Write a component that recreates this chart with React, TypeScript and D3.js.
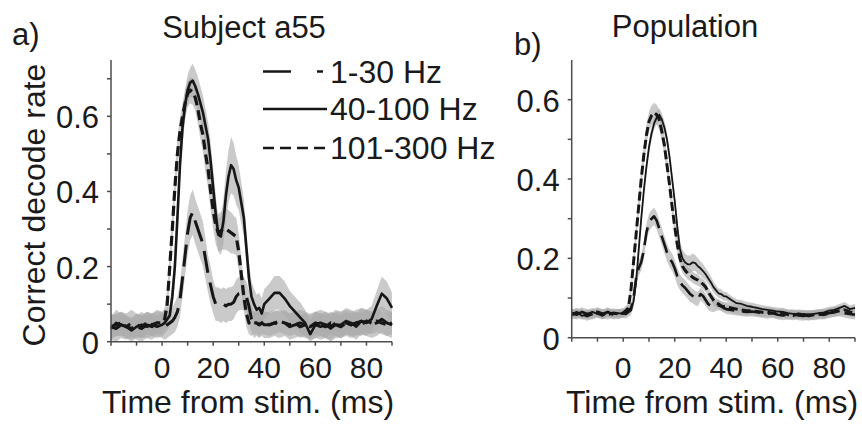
import React from 'react';
import * as d3 from 'd3';

// ---------- data ----------
const TIME = [-20,-18,-16,-14,-12,-10,-8,-6,-4,-2,
  0,1,2,3,4,5,6,7,8,9,10,11,12,13,14,15,16,17,18,19,20,21,22,23,24,25,26,27,28,29,30,31,32,33,34,35,36,37,38,39,40,
  42,44,46,48,50,52,54,56,58,60,62,64,66,68,70,72,74,76,78,80,82,84,86,88,90];

const X_TICKS = [-20,-10,0,10,20,30,40,50,60,70,80,90];
const X_TICK_LABELS = [0,20,40,60,80];
const Y_TICKS_A = [0,0.1,0.2,0.3,0.4,0.5,0.6,0.7];
const Y_TICKS_B = [0,0.1,0.2,0.3,0.4,0.5,0.6];
const Y_TICK_LABELS = [0,0.2,0.4,0.6];
const LEGEND_LABELS = ['1-30 Hz','40-100 Hz','101-300 Hz'];

// Subject a55
const A_1_30 = [0.04,0.035,0.045,0.04,0.05,0.04,0.035,0.045,0.04,0.05,
  0.045,0.04,0.045,0.05,0.055,0.065,0.08,0.11,0.17,0.23,0.29,0.33,0.345,0.32,0.3,0.28,0.26,0.22,0.18,0.15,0.12,0.1,0.1,0.095,0.1,0.095,0.1,0.1,0.105,0.12,0.128,0.13,0.128,0.12,0.095,0.06,0.045,0.05,0.045,0.05,0.045,
  0.045,0.05,0.045,0.05,0.04,0.045,0.05,0.045,0.04,0.045,0.05,0.045,0.04,0.05,0.045,0.05,0.045,0.05,0.055,0.05,0.045,0.05,0.06,0.05,0.045];
const A_40_100 = [0.035,0.05,0.045,0.04,0.03,0.04,0.045,0.04,0.045,0.04,
  0.045,0.05,0.06,0.07,0.12,0.2,0.33,0.47,0.57,0.63,0.67,0.69,0.695,0.68,0.66,0.635,0.61,0.575,0.54,0.48,0.41,0.34,0.285,0.28,0.32,0.39,0.44,0.47,0.46,0.43,0.41,0.37,0.33,0.25,0.17,0.12,0.1,0.085,0.09,0.075,0.1,
  0.115,0.13,0.13,0.115,0.095,0.08,0.065,0.05,0.02,0.045,0.04,0.045,0.035,0.045,0.045,0.055,0.05,0.04,0.055,0.05,0.06,0.095,0.128,0.115,0.09];
const A_101_300 = [0.04,0.045,0.05,0.04,0.035,0.045,0.04,0.05,0.045,0.05,
  0.05,0.06,0.1,0.2,0.3,0.41,0.5,0.56,0.6,0.635,0.66,0.67,0.665,0.65,0.62,0.58,0.55,0.5,0.46,0.4,0.35,0.31,0.29,0.295,0.3,0.3,0.295,0.29,0.285,0.28,0.24,0.18,0.12,0.075,0.05,0.045,0.05,0.05,0.045,0.05,0.05,
  0.045,0.05,0.055,0.05,0.045,0.05,0.04,0.045,0.04,0.05,0.045,0.04,0.05,0.045,0.04,0.05,0.045,0.05,0.045,0.055,0.05,0.055,0.05,0.045,0.05];

const A_SE_1_30 = [0.035,0.035,0.035,0.035,0.035,0.035,0.035,0.035,0.035,0.035,
  0.035,0.035,0.035,0.035,0.035,0.04,0.04,0.045,0.05,0.055,0.06,0.06,0.06,0.06,0.06,0.06,0.06,0.055,0.05,0.05,0.045,0.045,0.045,0.045,0.045,0.045,0.045,0.045,0.045,0.045,0.045,0.045,0.045,0.04,0.04,0.035,0.035,0.035,0.035,0.035,0.035,
  0.035,0.035,0.035,0.035,0.035,0.035,0.035,0.035,0.035,0.035,0.035,0.035,0.035,0.035,0.035,0.035,0.035,0.035,0.035,0.035,0.035,0.035,0.035,0.035,0.035];
const A_SE_40_100 = [0.03,0.035,0.03,0.03,0.03,0.03,0.035,0.03,0.03,0.03,
  0.03,0.03,0.03,0.03,0.035,0.04,0.045,0.045,0.045,0.04,0.04,0.04,0.045,0.045,0.045,0.045,0.045,0.045,0.045,0.05,0.05,0.05,0.045,0.05,0.06,0.065,0.07,0.075,0.07,0.065,0.06,0.055,0.05,0.045,0.04,0.04,0.04,0.04,0.04,0.04,0.04,
  0.04,0.045,0.045,0.045,0.04,0.04,0.04,0.035,0.035,0.035,0.035,0.035,0.035,0.035,0.035,0.035,0.035,0.035,0.035,0.035,0.035,0.04,0.045,0.045,0.04];
const A_SE_101_300 = [0.03,0.03,0.03,0.03,0.03,0.03,0.03,0.03,0.03,0.03,
  0.03,0.03,0.035,0.04,0.04,0.04,0.04,0.035,0.035,0.035,0.035,0.035,0.035,0.035,0.04,0.04,0.045,0.05,0.05,0.05,0.05,0.05,0.05,0.05,0.055,0.055,0.055,0.055,0.05,0.05,0.05,0.045,0.04,0.035,0.03,0.03,0.03,0.03,0.03,0.03,0.03,
  0.03,0.03,0.03,0.03,0.03,0.03,0.03,0.03,0.03,0.03,0.03,0.03,0.03,0.03,0.03,0.03,0.03,0.03,0.03,0.03,0.03,0.03,0.03,0.03,0.03];

// Population
const B_1_30 = [0.062,0.058,0.065,0.06,0.058,0.062,0.06,0.065,0.058,0.06,
  0.062,0.06,0.065,0.07,0.1,0.15,0.175,0.19,0.22,0.265,0.29,0.3,0.306,0.295,0.275,0.255,0.235,0.215,0.2,0.19,0.175,0.155,0.14,0.132,0.126,0.118,0.11,0.105,0.1,0.097,0.11,0.105,0.095,0.085,0.08,0.078,0.08,0.082,0.08,0.075,0.072,
  0.07,0.068,0.066,0.065,0.066,0.064,0.062,0.06,0.062,0.058,0.056,0.058,0.06,0.056,0.055,0.058,0.056,0.058,0.06,0.062,0.065,0.066,0.062,0.06,0.058];
const B_40_100 = [0.06,0.065,0.055,0.06,0.065,0.06,0.055,0.065,0.06,0.062,
  0.06,0.065,0.07,0.075,0.09,0.14,0.22,0.3,0.37,0.43,0.48,0.515,0.54,0.555,0.562,0.55,0.53,0.5,0.455,0.4,0.345,0.28,0.225,0.2,0.19,0.185,0.185,0.19,0.188,0.18,0.175,0.168,0.16,0.15,0.14,0.128,0.12,0.112,0.11,0.105,0.104,
  0.095,0.087,0.085,0.08,0.078,0.075,0.072,0.07,0.068,0.066,0.065,0.062,0.06,0.058,0.06,0.058,0.06,0.062,0.064,0.068,0.07,0.075,0.08,0.072,0.075];
const B_101_300 = [0.058,0.062,0.06,0.055,0.06,0.065,0.06,0.058,0.062,0.06,
  0.062,0.068,0.075,0.12,0.19,0.26,0.33,0.4,0.46,0.51,0.545,0.56,0.567,0.562,0.55,0.52,0.485,0.435,0.385,0.33,0.28,0.235,0.2,0.18,0.17,0.162,0.158,0.152,0.148,0.145,0.14,0.135,0.128,0.115,0.105,0.095,0.088,0.085,0.08,0.078,0.078,
  0.075,0.072,0.07,0.068,0.068,0.066,0.064,0.065,0.062,0.06,0.062,0.058,0.056,0.06,0.058,0.055,0.058,0.06,0.058,0.062,0.065,0.068,0.07,0.065,0.062];

const B_SE_1_30 = [0.012,0.012,0.012,0.012,0.012,0.012,0.012,0.012,0.012,0.012,
  0.012,0.012,0.012,0.014,0.016,0.018,0.02,0.02,0.022,0.022,0.022,0.022,0.022,0.022,0.022,0.022,0.022,0.022,0.022,0.022,0.022,0.022,0.02,0.02,0.02,0.02,0.02,0.018,0.018,0.018,0.016,0.016,0.015,0.015,0.014,0.014,0.013,0.013,0.012,0.012,0.012,
  0.012,0.012,0.012,0.012,0.012,0.012,0.012,0.012,0.012,0.012,0.012,0.012,0.012,0.012,0.012,0.012,0.012,0.012,0.012,0.012,0.012,0.012,0.012,0.012,0.012];
const B_SE_40_100 = [0.01,0.01,0.01,0.01,0.01,0.01,0.01,0.01,0.01,0.01,
  0.01,0.01,0.01,0.012,0.014,0.016,0.016,0.016,0.016,0.016,0.016,0.016,0.016,0.016,0.016,0.016,0.016,0.016,0.016,0.016,0.016,0.018,0.02,0.022,0.022,0.022,0.022,0.022,0.02,0.02,0.018,0.018,0.016,0.016,0.015,0.014,0.013,0.012,0.012,0.011,0.011,
  0.01,0.01,0.01,0.01,0.01,0.01,0.01,0.01,0.01,0.01,0.01,0.01,0.01,0.01,0.01,0.01,0.01,0.01,0.01,0.01,0.01,0.01,0.01,0.01,0.01];
const B_SE_101_300 = [0.012,0.012,0.012,0.012,0.012,0.012,0.012,0.012,0.012,0.012,
  0.012,0.012,0.014,0.018,0.02,0.022,0.024,0.025,0.025,0.025,0.025,0.025,0.025,0.025,0.025,0.025,0.025,0.024,0.022,0.02,0.02,0.018,0.018,0.016,0.016,0.015,0.015,0.014,0.014,0.014,0.013,0.013,0.013,0.012,0.012,0.012,0.012,0.012,0.012,0.012,0.012,
  0.012,0.012,0.012,0.012,0.012,0.012,0.012,0.012,0.012,0.012,0.012,0.012,0.012,0.012,0.012,0.012,0.012,0.012,0.012,0.012,0.012,0.012,0.012,0.012,0.012];

// ---------- drawing ----------
const FONT = "'Liberation Sans', Arial, Helvetica, sans-serif";
const AXIS_COLOR = '#4d4d4d';
const LINE_COLOR = '#161616';
const TEXT_COLOR = '#1a1a1a';

type Series = { v: number[]; se: number[]; dash?: string; width: number };

function Panel(props: {
  x0: number; x1: number; y0: number; y1: number; yMax: number;
  yTicks: number[]; series: Series[]; xLabelX: number;
}) {
  const { x0, x1, y0, y1, yMax, yTicks, series, xLabelX } = props;
  const x = d3.scaleLinear().domain([-20, 90]).range([x0, x1]);
  const y = d3.scaleLinear().domain([0, yMax]).range([y0, y1]);
  const fmt = (d: number) => (d === 0 ? '0' : d3.format('.1f')(d));

  return (
    <g>
      {series.map((s, i) => {
        const area = d3.area<number>()
          .x((_, k) => x(TIME[k]))
          .y0((d, k) => y(Math.max(0, d - s.se[k])))
          .y1((d, k) => y(d + s.se[k]));
        return <path key={'a' + i} d={area(s.v) || ''} fill="#a9a9a9" fillOpacity={0.62} stroke="none" />;
      })}
      {series.map((s, i) => {
        const line = d3.line<number>().x((_, k) => x(TIME[k])).y((d) => y(d));
        return (
          <path key={'l' + i} d={line(s.v) || ''} fill="none" stroke={LINE_COLOR}
            strokeWidth={s.width} strokeDasharray={s.dash} strokeLinejoin="round" />
        );
      })}
      <line x1={x0} x2={x0} y1={y(0)} y2={y1} stroke={AXIS_COLOR} strokeWidth={1.5} />
      <line x1={x0} x2={x1} y1={y(0)} y2={y(0)} stroke={AXIS_COLOR} strokeWidth={1.5} />
      {yTicks.map((t) => (
        <line key={'yt' + t} x1={x0 - 4} x2={x0} y1={y(t)} y2={y(t)} stroke={AXIS_COLOR} strokeWidth={1.5} />
      ))}
      {X_TICKS.map((t) => (
        <line key={'xt' + t} x1={x(t)} x2={x(t)} y1={y(0)} y2={y(0) + 4} stroke={AXIS_COLOR} strokeWidth={1.5} />
      ))}
      {Y_TICK_LABELS.map((t) => (
        <text key={'yl' + t} x={x0 - 12} y={y(t) + 12} textAnchor="end" fontSize={31} fill={TEXT_COLOR}>{fmt(t)}</text>
      ))}
      {X_TICK_LABELS.map((t) => (
        <text key={'xl' + t} x={x(t)} y={378} textAnchor="middle" fontSize={30} fill={TEXT_COLOR}>{t}</text>
      ))}
      <text x={xLabelX} y={413} textAnchor="middle" fontSize={32} fill={TEXT_COLOR}>Time from stim. (ms)</text>
    </g>
  );
}

export default function App() {
  const seriesA: Series[] = [
    { v: A_1_30, se: A_SE_1_30, dash: '22,10', width: 3 },
    { v: A_40_100, se: A_SE_40_100, width: 2.6 },
    { v: A_101_300, se: A_SE_101_300, dash: '10,5', width: 3.2 },
  ];
  const seriesB: Series[] = [
    { v: B_1_30, se: B_SE_1_30, dash: '18,8', width: 2.6 },
    { v: B_40_100, se: B_SE_40_100, width: 1.8 },
    { v: B_101_300, se: B_SE_101_300, dash: '9,4', width: 3 },
  ];
  const legendDash = ['28,26', undefined, '11,6'];
  const legendY = [71.5, 109, 148];

  return (
    <svg width={862} height={430} style={{ position: 'absolute', left: 0, top: 0, background: '#fff' }}
      fontFamily={FONT}>
      <rect width={862} height={430} fill="#fff" />
      <Panel x0={111} x1={392} y0={341.7} y1={60} yMax={0.75} yTicks={Y_TICKS_A}
        series={seriesA} xLabelX={248} />
      <Panel x0={571.7} x1={855} y0={337.7} y1={60} yMax={0.7} yTicks={Y_TICKS_B}
        series={seriesB} xLabelX={712} />

      <text x={12} y={45} fontSize={31} fill={TEXT_COLOR}>a)</text>
      <text x={244} y={38} textAnchor="middle" fontSize={31} fill={TEXT_COLOR}>Subject a55</text>
      <text x={514} y={55} fontSize={31} fill={TEXT_COLOR}>b)</text>
      <text x={685} y={37} textAnchor="middle" fontSize={31} fill={TEXT_COLOR}>Population</text>
      <text transform="translate(45,205) rotate(-90)" textAnchor="middle" fontSize={32} fill={TEXT_COLOR}>Correct decode rate</text>

      {LEGEND_LABELS.map((lab, i) => (
        <g key={lab}>
          <line x1={263} x2={i === 0 ? 323 : 327} y1={legendY[i]} y2={legendY[i]} stroke={LINE_COLOR}
            strokeWidth={2.5} strokeDasharray={legendDash[i]} />
          <text x={330} y={legendY[i] + 11} fontSize={32} fill={TEXT_COLOR}>{lab}</text>
        </g>
      ))}
    </svg>
  );
}
